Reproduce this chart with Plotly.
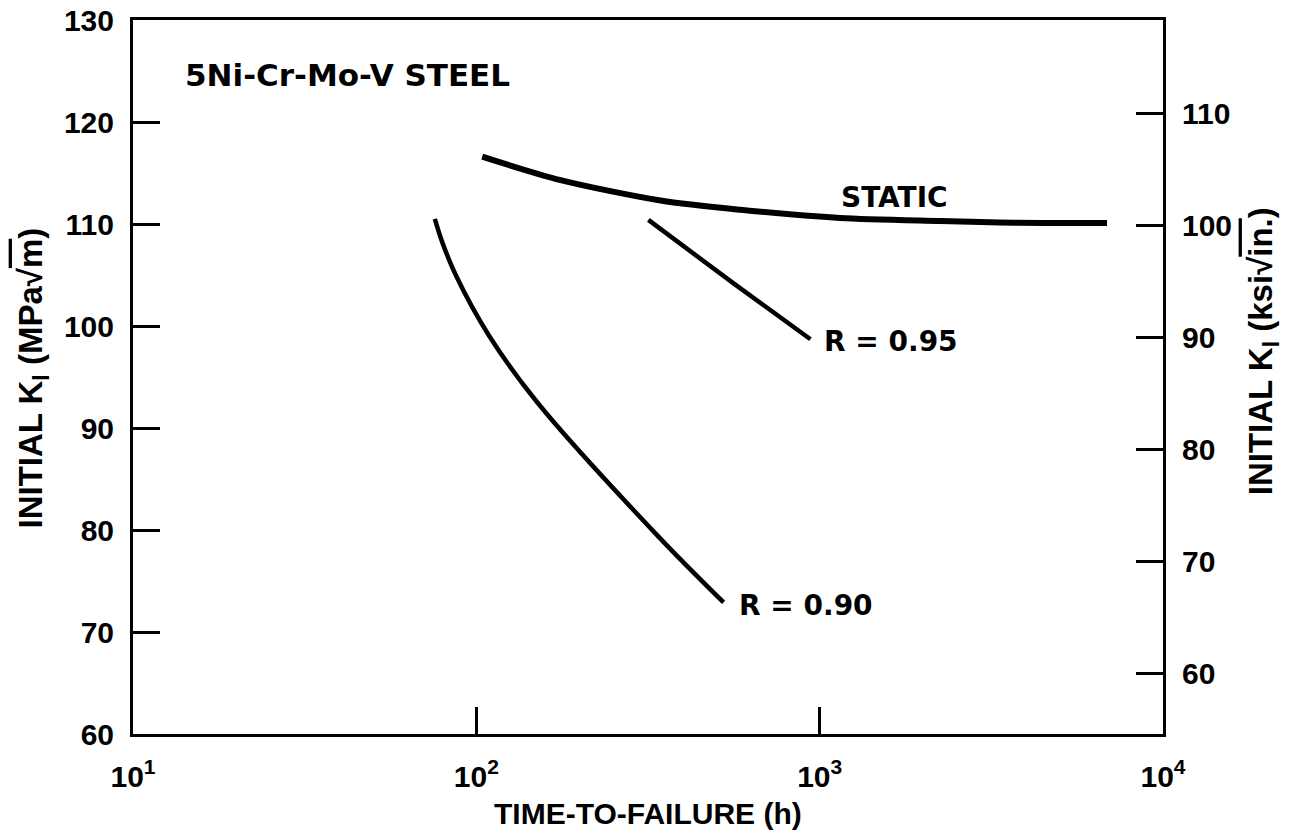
import math
import plotly.graph_objects as go

# ---- data ----
static_t = [104, 176, 344, 587, 1148, 2245, 3350, 6870]
static_k = [116.6, 114.3, 112.3, 111.4, 110.6, 110.3, 110.15, 110.1]

r95_t = [317, 560, 940]
r95_k = [110.4, 104.2, 98.7]

r90_t = [75.7, 79.6, 87.1, 108.7, 150.6, 336, 525]
r90_k = [110.5, 108.2, 105.0, 99.1, 92.5, 79.5, 72.9]

x_tickvals = [10, 100, 1000, 10000]
x_ticktext = ["10<sup>1</sup>", "10<sup>2</sup>", "10<sup>3</sup>", "10<sup>4</sup>"]
left_ticks = [60, 70, 80, 90, 100, 110, 120, 130]
right_ticks = [60, 70, 80, 90, 100, 110]

MPA_PER_KSI = 1.0988  # 1 ksi*sqrt(in) = 1.0988 MPa*sqrt(m)

FONT_TXT = "DejaVu Sans"
FONT_AX = "Liberation Sans"

fig = go.Figure()
fig.add_trace(go.Scatter(x=static_t, y=static_k, mode="lines",
                         line=dict(color="black", width=6, shape="spline", smoothing=0.8),
                         hoverinfo="skip", showlegend=False))
fig.add_trace(go.Scatter(x=r95_t, y=r95_k, mode="lines",
                         line=dict(color="black", width=4.5, shape="spline", smoothing=0.6),
                         hoverinfo="skip", showlegend=False))
fig.add_trace(go.Scatter(x=r90_t, y=r90_k, mode="lines",
                         line=dict(color="black", width=4.5, shape="spline", smoothing=1.0),
                         hoverinfo="skip", showlegend=False))
# invisible trace carrying the secondary (ksi) axis
fig.add_trace(go.Scatter(x=static_t, y=[k / MPA_PER_KSI for k in static_k],
                         yaxis="y2", mode="lines", opacity=0,
                         line=dict(width=0), hoverinfo="skip", showlegend=False))

annotations = [
    dict(x=math.log10(14.0), y=124.6, xref="x", yref="y", text="5Ni-Cr-Mo-V STEEL",
         showarrow=False, xanchor="left", yanchor="middle",
         font=dict(family=FONT_TXT, size=31, color="black", weight="bold")),
    dict(x=3.217, y=112.55, xref="x", yref="y", text="STATIC",
         showarrow=False, xanchor="center", yanchor="middle",
         font=dict(family=FONT_TXT, size=28, color="black", weight="bold")),
    dict(x=3.0076, y=98.5, xref="x", yref="y", text="R = 0.95",
         showarrow=False, xanchor="left", yanchor="middle",
         font=dict(family=FONT_TXT, size=28, color="black", weight="bold")),
    dict(x=2.760, y=72.55, xref="x", yref="y", text="R = 0.90",
         showarrow=False, xanchor="left", yanchor="middle",
         font=dict(family=FONT_TXT, size=28, color="black", weight="bold")),
    dict(x=0.5, y=-0.112, xref="paper", yref="paper", text="TIME-TO-FAILURE (h)",
         showarrow=False, xanchor="center", yanchor="middle",
         font=dict(family=FONT_AX, size=30, color="black", weight="bold")),
    dict(x=-0.097, y=0.498, xref="paper", yref="paper", textangle=-90,
         text="INITIAL K<sub>I</sub> (MPa√<span style='text-decoration:overline'>m</span>)",
         showarrow=False, xanchor="center", yanchor="middle",
         font=dict(family=FONT_AX, size=33, color="black", weight="bold")),
    dict(x=1.097, y=0.536, xref="paper", yref="paper", textangle=-90,
         text="INITIAL K<sub>I</sub> (ksi√<span style='text-decoration:overline'>in.</span>)",
         showarrow=False, xanchor="center", yanchor="middle",
         font=dict(family=FONT_AX, size=33, color="black", weight="bold")),
]

axis_common = dict(showgrid=False, zeroline=False, showline=True, linecolor="black",
                   linewidth=3, ticks="inside", ticklen=27, tickwidth=2.5,
                   tickcolor="black", automargin=False, ticklabeloverflow="allow")

# page body has an 8px default margin; size the figure to fit the window
fig.update_layout(
    width=1279, height=822,
    margin=dict(l=125, r=124, t=12, b=96, autoexpand=False),
    paper_bgcolor="white", plot_bgcolor="white",
    showlegend=False,
    annotations=annotations,
    xaxis=dict(type="log", range=[1, 4], tickvals=x_tickvals, ticktext=x_ticktext,
               mirror=True, ticklabelstandoff=14,
               tickfont=dict(family=FONT_AX, size=30, color="black", weight="bold"),
               **axis_common),
    yaxis=dict(range=[60, 130], tickvals=left_ticks, ticklabelstandoff=10,
               tickfont=dict(family=FONT_AX, size=30, color="black", weight="bold"),
               **axis_common),
    yaxis2=dict(overlaying="y", side="right",
                range=[60 / MPA_PER_KSI, 130 / MPA_PER_KSI], tickvals=right_ticks,
                ticklabelstandoff=10,
                tickfont=dict(family=FONT_AX, size=30, color="black", weight="bold"),
                **axis_common),
)

fig.write_html("out.html")
